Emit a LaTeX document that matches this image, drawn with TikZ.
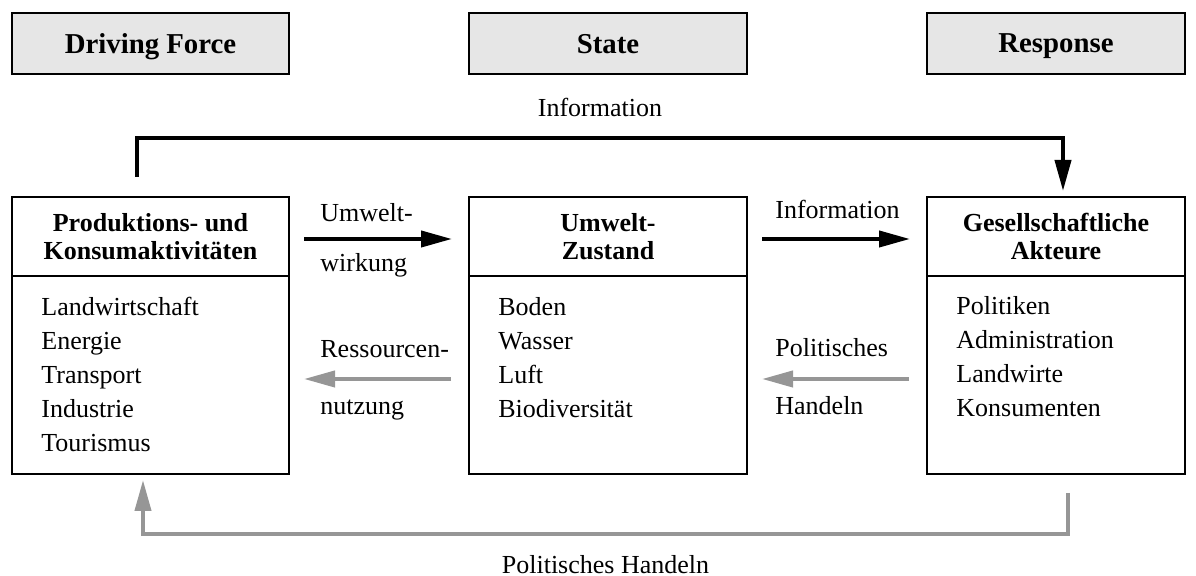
\documentclass[tikz,border=0pt]{standalone}
\usepackage{fontspec}
\setmainfont{Liberation Serif}
\usepackage{tikz}
\usetikzlibrary{arrows.meta}
\definecolor{headgray}{RGB}{230, 230, 230}
\definecolor{backgray}{RGB}{150, 150, 150}
\definecolor{textblack}{RGB}{0, 0, 0}

\begin{document}
\begin{tikzpicture}[
        x=0.5pt, y=-0.5pt,
        every node/.style={font=\fontsize{13}{17}\selectfont, text=textblack},
        header/.style={rectangle, draw=black, line width=1pt, fill=headgray, minimum height=30.5pt, text depth=0pt, font=\fontsize{14.4}{17}\selectfont\bfseries},
        boxtitle/.style={rectangle, draw=black, line width=1pt, minimum height=39.5pt, align=center, font=\fontsize{13}{14}\selectfont\bfseries},
        boxbody/.style={rectangle, draw=black, line width=1pt, minimum height=99pt},
        items/.style={anchor=base west, align=left, inner sep=0pt},
        label/.style={anchor=base west, inner sep=0pt},
        link/.style={line width=2pt, -{Triangle[length=15.5pt, width=8pt]}},
        flow/.style={link, draw=black, shorten <=7pt, shorten >=8pt},
        backflow/.style={link, draw=backgray, shorten <=8.5pt, shorten >=7pt},
        backlink/.style={link, draw=backgray}
    ]
    \useasboundingbox (0,0) rectangle (1196,576);

    % DPSIR headers
    \node[header, minimum width=138.5pt] (hdrive) at (150.5, 43.5) {Driving Force};
    \node[header, minimum width=139pt] (hstate) at (608, 43.5) {State};
    \node[header, minimum width=129pt] (hresp) at (1056, 43.5) {Response};

    % Box titles
    \node[boxtitle, minimum width=138.5pt] (prodtitle) at (150.5, 236.5) {Produktions- und\\ Konsumaktivitäten};
    \node[boxtitle, minimum width=139pt] (statetitle) at (608, 236.5) {Umwelt-\\ Zustand};
    \node[boxtitle, minimum width=129pt] (akttitle) at (1056, 236.5) {Gesellschaftliche\\ Akteure};

    % Box bodies
    \node[boxbody, minimum width=138.5pt] (prodbody) at (150.5, 375) {};
    \node[boxbody, minimum width=139pt] (statebody) at (608, 375) {};
    \node[boxbody, minimum width=129pt] (aktbody) at (1056, 375) {};

    % lists (base = last line)
    \node[items] (prodlist) at (41, 452) {Landwirtschaft\\ Energie\\ Transport\\ Industrie\\ Tourismus};
    \node[items] (statelist) at (498, 418) {Boden\\ Wasser\\ Luft\\ Biodiversität};
    \node[items] (aktlist) at (956, 417) {Politiken\\ Administration\\ Landwirte\\ Konsumenten};

    % Flows between boxes
    \draw[flow] ([yshift=-1.25pt]prodtitle.east) -- ([yshift=-1.25pt]statetitle.west);
    \draw[flow] ([yshift=-1.25pt]statetitle.east) -- ([yshift=-1.25pt]akttitle.west);
    \draw[backflow] ([yshift=-2pt]statebody.west) -- ([yshift=-2pt]prodbody.east);
    \draw[backflow] ([yshift=-2pt]aktbody.west) -- ([yshift=-2pt]statebody.east);

    \node[label] (umw1) at (320, 222) {Umwelt-};
    \node[label] (umw2) at (320, 272) {wirkung};
    \node[label] (res1) at (320, 358) {Ressourcen-};
    \node[label] (res2) at (320, 415) {nutzung};
    \node[label] (info) at (775, 219) {Information};
    \node[label] (pol1) at (775, 357) {Politisches};
    \node[label] (pol2) at (775, 415) {Handeln};

    % Feedback loops
    \draw[link, draw=black] ([xshift=-6.75pt, yshift=9.5pt]prodtitle.north) -- ++(0,-39)
        -| node[pos=0.25, above=9.5pt, inner sep=0pt] {Information} ([xshift=3.5pt, yshift=2.5pt]akttitle.north);
    \draw[backlink] ([xshift=6pt, yshift=-9pt]aktbody.south) -- ++(0,41)
        -| node[pos=0.25, below=9.5pt, inner sep=0pt] {Politisches Handeln} ([xshift=-3.75pt, yshift=-2.5pt]prodbody.south);

\end{tikzpicture}
\end{document}
